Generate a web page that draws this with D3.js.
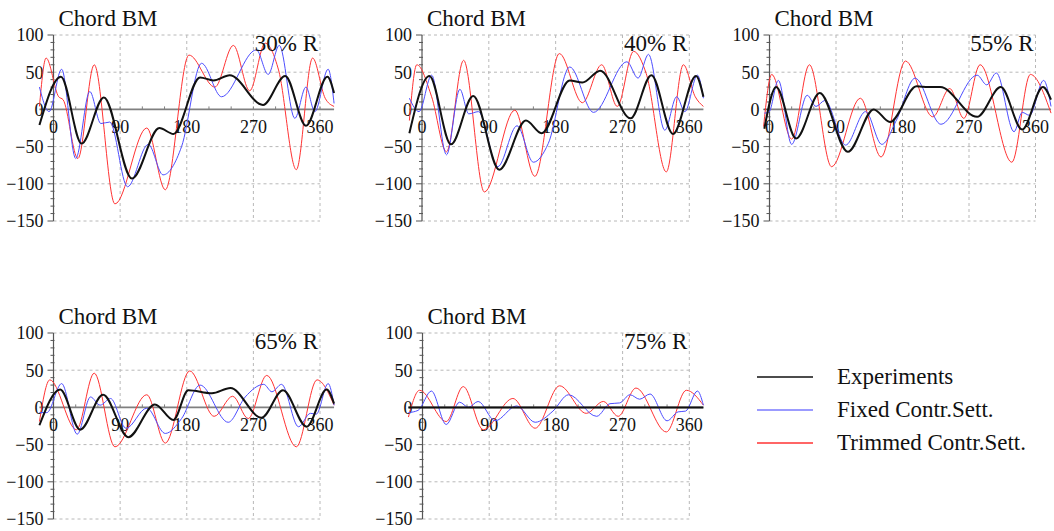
<!DOCTYPE html>
<html>
<head>
<meta charset="utf-8">
<script src="https://cdn.jsdelivr.net/npm/d3@7"></script>
<style>
  html, body { margin: 0; padding: 0; background: #fff; }
  svg { display: block; }
  text { font-family: "Liberation Serif", "Times New Roman", Times, serif; fill: #111; }
</style>
</head>
<body>
<svg id="chart" width="1054" height="531"></svg>
<script>
// Chord bending moment vs. azimuth angle, five radial stations.
// Each series is a list of [azimuth deg, moment] points.

const xTicks = [0, 90, 180, 270, 360];
const yTicks = [100, 50, 0, -50, -100, -150];
const stationLabels = ["30% R", "40% R", "55% R", "65% R", "75% R"];
const seriesNames = ["Experiments", "Fixed Contr.Sett.", "Trimmed Contr.Sett."];

// 30% R
const exp30 = [[-19,-21],[10,44],[38,-46],[68,16],[106,-93],[143,-25],[162,-33],[198,43],[216,39],[238,46],[283,6],[313,45],[341,-22],[370,44],[379,22]];
const fix30 = [[-19,30],[-6,-3],[11,54],[30,-66],[49,24],[64,-19],[76,-17],[100,-104],[128,-47],[148,-88],[173,-50],[200,62],[227,17],[274,80],[290,47],[305,86],[326,-12],[341,30],[353,-3],[371,54],[379,8]];
const trim30 = [[-19,4],[-10,69],[7,17],[13,13],[33,-66],[55,60],[83,-127],[126,-25],[151,-108],[183,73],[218,30],[243,86],[265,25],[286,89],[304,53],[328,-81],[350,69],[367,15],[379,4]];

// 40% R
const exp40 = [[-17,-32],[10,45],[39,-47],[69,18],[104,-81],[140,-15],[161,-32],[199,39],[216,36],[240,52],[281,-12],[309,46],[338,-33],[369,45],[379,17]];
const fix40 = [[-17,15],[-4,-3],[13,46],[33,-61],[51,27],[63,-6],[76,-3],[102,-77],[128,-22],[150,-71],[170,-46],[199,57],[231,-4],[276,64],[291,42],[305,74],[327,-28],[343,17],[354,-3],[371,46],[379,15]];
const trim40 = [[-17,-15],[-7,60],[13,17],[33,-57],[56,66],[84,-111],[125,-1],[152,-90],[185,75],[216,9],[242,60],[263,4],[285,78],[302,48],[329,-84],[352,60],[368,17],[379,4]];

// 55% R
const exp55 = [[-7,-26],[9,30],[36,-39],[68,22],[106,-57],[141,0],[163,-17],[199,31],[215,30],[231,30],[281,-10],[313,30],[342,-27],[370,30],[381,13]];
const fix55 = [[-7,-5],[-1,-4],[12,39],[30,-47],[51,19],[63,4],[75,12],[103,-48],[130,-3],[152,-47],[172,-14],[197,42],[232,-20],[281,46],[294,33],[307,49],[331,-30],[342,-4],[352,-8],[371,39],[381,4]];
const trim55 = [[-8,-23],[3,47],[30,-40],[54,60],[84,-77],[123,15],[151,-64],[184,65],[221,-10],[244,28],[263,-12],[285,60],[328,-71],[353,47],[381,-5]];

// 65% R
const exp65 = [[-19,-24],[9,24],[36,-30],[67,17],[101,-40],[137,4],[162,-17],[182,23],[214,19],[239,26],[281,-14],[310,23],[342,-26],[369,24],[379,5]];
const fix65 = [[-19,-7],[-9,-7],[11,32],[32,-36],[50,14],[63,3],[77,12],[98,-28],[126,-1],[151,-35],[173,-15],[198,30],[236,-20],[259,14],[284,31],[295,21],[308,31],[331,-26],[347,-8],[355,-9],[371,32],[379,3]];
const trim65 = [[-19,-19],[-5,37],[31,-30],[55,46],[83,-53],[126,17],[151,-48],[184,49],[217,-12],[242,15],[263,-15],[288,43],[328,-53],[356,37],[379,3]];

// 75% R (experimental trace lies on zero)
const exp75 = [[-19,0],[379,0]];
const fix75 = [[-19,-7],[-6,-4],[12,22],[32,-23],[50,7],[62,0],[75,8],[98,-18],[127,2],[152,-20],[176,-5],[197,17],[235,-12],[253,5],[266,6],[280,17],[293,11],[307,18],[330,-18],[345,-6],[355,-5],[371,22],[379,3]];
const trim75 = [[-19,-13],[-4,23],[32,-19],[55,28],[82,-30],[122,12],[152,-28],[185,29],[221,-8],[244,8],[264,-12],[288,26],[329,-33],[356,23],[379,3]];

const panelSeries = [
  [exp30, fix30, trim30],
  [exp40, fix40, trim40],
  [exp55, fix55, trim55],
  [exp65, fix65, trim65],
  [exp75, fix75, trim75]
];

// Panel placement: pixel x of 0°/360°, pixel y of +100/-150
const panels = [
  { x0: 53.5,  x1: 320,    yTop: 35,  yBot: 221 },
  { x0: 422,   x1: 689.3,  yTop: 35,  yBot: 221 },
  { x0: 769.5, x1: 1035.5, yTop: 35,  yBot: 221 },
  { x0: 53.5,  x1: 320,    yTop: 333, yBot: 519 },
  { x0: 422.5, x1: 689.3,  yTop: 333, yBot: 519 }
];

const colors = ["#111111", "#4d4dff", "#ff3333"];
const widths = [2, 1, 1];
const drawOrder = [2, 1, 0];
const fmt = d => (d < 0 ? "\u2212" + Math.abs(d) : String(d));

const svg = d3.select("#chart");

panels.forEach((p, i) => {
  const x = d3.scaleLinear().domain([0, 360]).range([p.x0, p.x1]);
  const y = d3.scaleLinear().domain([-150, 100]).range([p.yBot, p.yTop]);
  const g = svg.append("g");
  const series = panelSeries[i];
  const allX = series.flat().map(d => d[0]);
  const xMin = d3.min(allX), xMax = d3.max(allX);

  // dashed grid
  const grid = g.append("g").attr("stroke", "#b8b8b8").attr("stroke-width", 1)
    .attr("stroke-dasharray", "3,3").attr("fill", "none");
  yTicks.filter(v => v !== 0).forEach(v => {
    grid.append("line").attr("x1", x(0)).attr("x2", x(360)).attr("y1", y(v)).attr("y2", y(v));
  });
  xTicks.filter(v => v !== 0).forEach(v => {
    grid.append("line").attr("x1", x(v)).attr("x2", x(v)).attr("y1", y(100)).attr("y2", y(-150));
  });

  // horizontal axis through zero
  g.append("line").attr("x1", x(xMin)).attr("x2", x(xMax)).attr("y1", y(0)).attr("y2", y(0))
    .attr("stroke", "#808080").attr("stroke-width", 1.6);
  d3.range(0, 361, 30).forEach(v => {
    g.append("line").attr("x1", x(v)).attr("x2", x(v)).attr("y1", y(0)).attr("y2", y(0) - 3)
      .attr("stroke", "#808080").attr("stroke-width", 1);
  });

  // vertical axis at 0°
  g.append("line").attr("x1", x(0)).attr("x2", x(0)).attr("y1", y(100)).attr("y2", y(-150))
    .attr("stroke", "#555").attr("stroke-width", 1.2);
  d3.range(-150, 101, 10).forEach(v => {
    const major = v % 50 === 0;
    g.append("line").attr("x1", x(0) - (major ? 6 : 3)).attr("x2", x(0) + (major ? 0 : 1))
      .attr("y1", y(v)).attr("y2", y(v)).attr("stroke", "#555").attr("stroke-width", 1);
  });

  // tick labels
  g.selectAll(".yl").data(yTicks).join("text")
    .attr("x", x(0) - 10).attr("y", d => y(d)).attr("dy", "0.35em")
    .attr("text-anchor", "end").attr("font-size", 18).text(fmt);
  g.selectAll(".xl").data(xTicks).join("text")
    .attr("x", d => x(d)).attr("y", y(0) + 24)
    .attr("text-anchor", "middle").attr("font-size", 18).text(fmt);

  // curves
  const line = d3.line().x(d => x(d[0])).y(d => y(d[1])).curve(d3.curveMonotoneX);
  drawOrder.forEach(k => {
    g.append("path").datum(series[k]).attr("d", line)
      .attr("fill", "none").attr("stroke", colors[k]).attr("stroke-width", widths[k])
      .attr("stroke-linejoin", "round");
  });

  // titles
  g.append("text").attr("x", x(0) + 5).attr("y", y(100) - 9)
    .attr("font-size", 23).text("Chord BM");
  g.append("text").attr("x", x(360) - 2).attr("y", y(100) + 16)
    .attr("text-anchor", "end").attr("font-size", 23).text(stationLabels[i]);
});

// legend
const legendRows = [377, 410, 443];
const legendColors = ["#111111", "#7a7aff", "#ff3333"];
seriesNames.forEach((name, k) => {
  svg.append("line").attr("x1", 757).attr("x2", 813).attr("y1", legendRows[k]).attr("y2", legendRows[k])
    .attr("stroke", legendColors[k]).attr("stroke-width", 1.3);
  svg.append("text").attr("x", 837).attr("y", legendRows[k] + 7)
    .attr("font-size", 23).text(name);
});
</script>
</body>
</html>
